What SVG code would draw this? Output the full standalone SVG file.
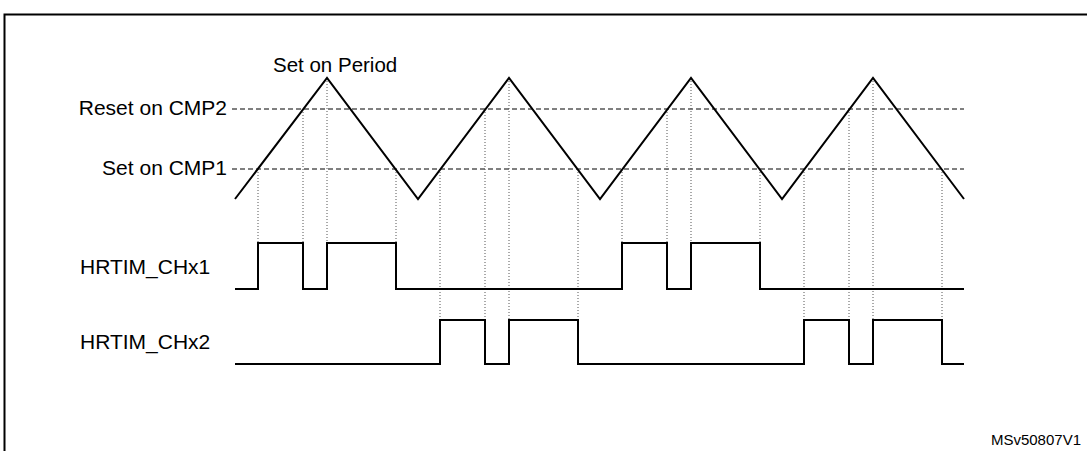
<svg xmlns="http://www.w3.org/2000/svg" width="1087" height="451" viewBox="0 0 1087 451">
<style>
text{font-family:"Liberation Sans",Arial,sans-serif;font-size:21px;fill:#000}
.w{fill:none;stroke:#000;stroke-width:2}
.d{fill:none;stroke:#000;stroke-width:1;stroke-dasharray:5,3}
.o{fill:none;stroke:#555;stroke-width:1;stroke-dasharray:1,2}
</style>
<rect x="0" y="0" width="1087" height="451" fill="#fff"/>
<rect x="4.5" y="14.5" width="1090" height="450" fill="none" stroke="#000" stroke-width="2"/>
<g id="connectors">
<path class="d" d="M232 109H964M232 169H964"/>
<path class="o" d="M258 169V289M303 109V289M327 78V289M396 169V289
M440 169V320M485 109V320M509 78V320M578 169V320
M622 169V289M667 109V289M691 78V289M760 169V289
M804 169V320M849 109V320M873 78V320M942 169V320"/>
</g>
<g id="triangle"><path class="w" d="M235 199L327 78L418 199L509 78L600 199L691 78L782 199L873 78L964 199"/></g>
<g id="chx1"><path class="w" d="M235 289H258V243H303V289H327V243H396V289H622V243H667V289H691V243H760V289H964"/></g>
<g id="chx2"><path class="w" d="M235 364H440V320H485V364H509V320H578V364H804V320H849V364H873V320H942V364H964"/></g>
<g id="labels">
<text x="273" y="72" style="font-size:20.5px">Set on Period</text>
<text x="227" y="115" text-anchor="end">Reset on CMP2</text>
<text x="227" y="175" text-anchor="end">Set on CMP1</text>
<text x="80" y="274">HRTIM_CHx1</text>
<text x="80" y="349">HRTIM_CHx2</text>
<text x="1081" y="445" text-anchor="end" style="font-size:15px">MSv50807V1</text>
</g>
</svg>
